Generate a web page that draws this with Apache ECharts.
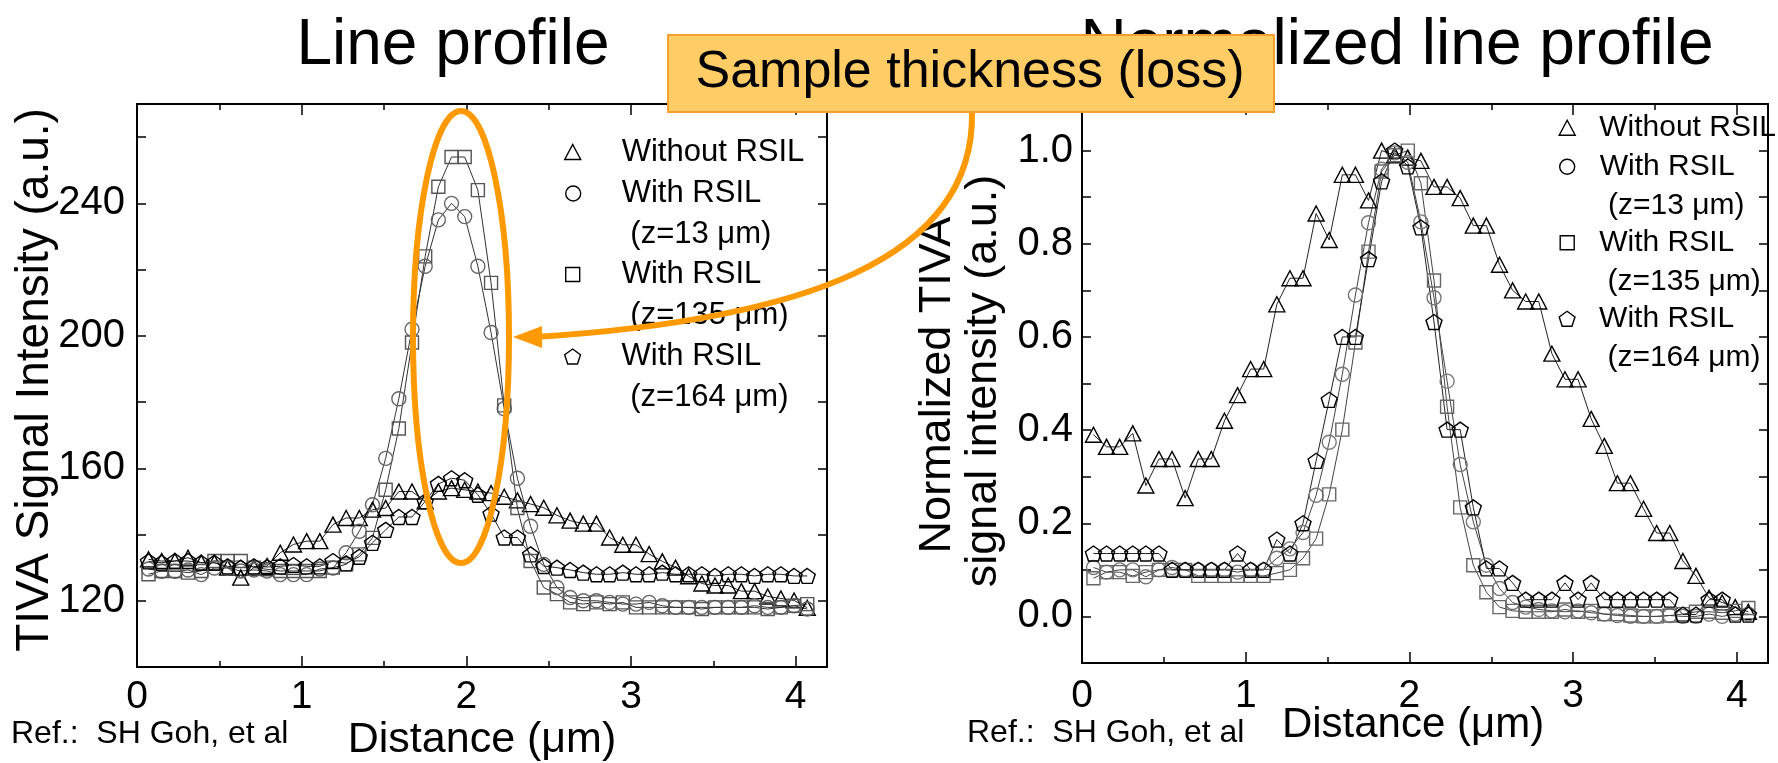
<!DOCTYPE html>
<html>
<head>
<meta charset="utf-8">
<title>Line profile</title>
<script src="https://cdn.jsdelivr.net/npm/echarts@6/dist/echarts.min.js"></script>
<style>
  html, body { margin: 0; padding: 0; background: #fff; }
  #main { width: 1778px; height: 763px; }
</style>
</head>
<body>
<div id="main"></div>
<script>
// distance along the line (um), shared by every profile
var distance = [0.07, 0.15, 0.23, 0.31, 0.39, 0.47, 0.55, 0.63, 0.71, 0.79,
  0.87, 0.95, 1.03, 1.11, 1.19, 1.27, 1.35, 1.43, 1.51, 1.59,
  1.67, 1.75, 1.83, 1.91, 1.99, 2.07, 2.15, 2.23, 2.31, 2.39,
  2.47, 2.55, 2.63, 2.71, 2.79, 2.87, 2.95, 3.03, 3.11, 3.19,
  3.27, 3.35, 3.43, 3.51, 3.59, 3.67, 3.75, 3.83, 3.91, 3.99, 4.07];

// line profile (a.u.)
var profNoRsil = [132.5, 132, 132, 133, 131.5, 131.5, 130, 127, 130, 130.5,
  134.5, 137, 138, 138, 143, 145, 145, 147.5, 148, 153, 153, 150,
  153, 154, 153.5, 153, 152.5,
  151.4, 150.3, 149.2, 148.1, 145.8, 144.2, 143.3, 143.3, 139.1, 136.9, 136.9, 134.1,
  131.9, 130, 127.4, 125.2, 124.6, 124.6, 122.9, 122.9, 121.3, 120.7, 120.1, 117.9];
var profZ13 = [129.6, 128.9, 128.9, 129.3, 127.9, 129.9, 129.9, 129, 129.3, 129,
  127.9, 127.9, 127.9, 129.6, 129.9,
  134.5, 141, 149, 163, 181, 202, 221, 235, 240, 236, 221, 201, 178, 157, 142.5, 131, 124,
  121, 120, 120, 119.5, 119, 119, 119.5, 118.5, 118, 118, 118, 118, 118, 118, 118.5, 118, 118, 118.5, 117.5];
var profZ135 = [128, 129, 129, 128.5, 129, 132, 132, 132, 130, 129.5,
  129, 129, 129, 129, 130,
  131, 134, 139, 153.5, 172, 198, 224, 245, 254, 254, 244, 216, 179, 148, 132, 124, 122,
  119.5, 119, 119.5, 119, 119.5, 118, 118, 118, 118, 118, 117.5, 118, 118, 118, 118, 117.5, 118, 118.5, 119];
var profZ164 = [131.9, 131.5, 132, 132, 131.5, 131.5, 130.4, 130, 130.4, 130.2,
  130.4, 130.8, 130.4, 130.4, 132, 131.3, 133.3,
  137.5, 141.4, 145.3, 145.3, 150, 155.3, 157, 156.4, 152, 146.3, 139.1, 139.1, 134, 130.5, 130, 129.3,
  128.5, 128, 128, 128.5, 128, 128, 128.5, 128, 128, 128, 127.5, 128, 128, 127.5, 128, 128, 127.5, 127.5];

// normalized line profile
var normNoRsil = [0.39, 0.364, 0.364, 0.393, 0.281, 0.338, 0.338, 0.254, 0.338, 0.338,
  0.42, 0.475, 0.531, 0.531, 0.67, 0.726, 0.726, 0.865, 0.808, 0.948,
  0.948, 0.893, 1.0, 0.99, 0.985, 0.978, 0.922, 0.922, 0.898, 0.839,
  0.839, 0.755, 0.7, 0.676, 0.676, 0.564, 0.509, 0.509, 0.424, 0.366,
  0.286, 0.286, 0.231, 0.179, 0.179, 0.119, 0.087, 0.04, 0.03, 0.02, 0.01];
var normZ13 = [0.105, 0.095, 0.1, 0.1, 0.085, 0.1, 0.105, 0.1, 0.1, 0.1,
  0.1, 0.095, 0.1, 0.1, 0.125, 0.145, 0.18, 0.26, 0.374, 0.52,
  0.69, 0.845, 0.96, 0.995, 0.975, 0.847, 0.684, 0.505, 0.326, 0.203,
  0.11, 0.06, 0.03, 0.02, 0.015, 0.012, 0.01, 0.012, 0.008, 0.005,
  0.002, 0, 0, 0, 0.002, 0, 0, 0.005, 0, 0.005, 0.005];
var normZ135 = [0.082, 0.095, 0.095, 0.087, 0.095, 0.1, 0.1, 0.1, 0.087, 0.087,
  0.087, 0.087, 0.087, 0.087, 0.093, 0.1, 0.125, 0.167, 0.262, 0.401,
  0.588, 0.783, 0.955, 0.99, 1.0, 0.93, 0.721, 0.45, 0.234, 0.11,
  0.052, 0.02, 0.012, 0.01, 0.01, 0.01, 0.015, 0.01, 0.012, 0.005,
  0.005, 0.002, 0, 0, 0.002, 0.005, 0.01, 0.01, 0.008, 0.012, 0.018];
var normZ164 = [0.135, 0.135, 0.135, 0.135, 0.135, 0.135, 0.1, 0.1, 0.1, 0.1,
  0.1, 0.135, 0.1, 0.1, 0.165, 0.135, 0.2, 0.334, 0.465, 0.6,
  0.6, 0.767, 0.934, 1.0, 0.966, 0.835, 0.632, 0.401, 0.401, 0.234,
  0.103, 0.103, 0.072, 0.036, 0.036, 0.036, 0.072, 0.036, 0.072, 0.036,
  0.036, 0.036, 0.036, 0.036, 0.036, 0.004, 0.004, 0.036, 0.036, 0.004, 0.004];

// tick labels
var xTickLabels = [0, 1, 2, 3, 4];
var profTickLabels = [120, 160, 200, 240];
var normTickLabels = [0.0, 0.2, 0.4, 0.6, 0.8, 1.0];

var names = ['Without RSIL', 'With RSIL (z=13 \u03bcm)', 'With RSIL (z=135 \u03bcm)', 'With RSIL (z=164 \u03bcm)'];
// two-line entries get an empty first line so the marker sits on "With RSIL"
var legendText = {};
legendText[names[0]] = 'Without RSIL';
legendText[names[1]] = '\u00a0\nWith RSIL\n\u00a0(z=13 \u03bcm)';
legendText[names[2]] = '\u00a0\nWith RSIL\n\u00a0(z=135 \u03bcm)';
legendText[names[3]] = '\u00a0\nWith RSIL\n\u00a0(z=164 \u03bcm)';

var pentagon = 'path://M10,0 L19.51,6.91 L15.88,18.09 L4.12,18.09 L0.49,6.91 Z';
var FONT = '"Liberation Sans", Arial, sans-serif';

function pairs(vals) {
  return distance.map(function (d, i) { return [d, vals[i]]; });
}

function isTick(list, v) {
  for (var i = 0; i < list.length; i++) {
    if (Math.abs(list[i] - v) < 1e-6) return true;
  }
  return false;
}

function line(name, vals, symbol, size, color, lineColor, xi, yi) {
  return {
    name: name, type: 'line',
    xAxisIndex: xi, yAxisIndex: yi,
    data: pairs(vals),
    symbol: symbol, symbolSize: size,
    lineStyle: { color: lineColor, width: 1 },
    itemStyle: { color: 'rgba(0,0,0,0)', borderColor: color, borderWidth: 1.4 },
    emphasis: { disabled: true },
    animation: false
  };
}

function xAx(grid, pos, interval, len, labels, margin) {
  return {
    type: 'value', gridIndex: grid, position: pos,
    min: 0, max: 4.19, interval: interval,
    axisLine: { show: true, onZero: false, lineStyle: { color: '#000', width: 2 } },
    axisTick: { show: true, inside: true, length: len, lineStyle: { color: '#000', width: 1.5 } },
    splitLine: { show: false },
    axisLabel: labels ? {
      show: true, margin: margin, color: '#000', fontSize: 39, fontFamily: FONT,
      formatter: function (v) { return isTick(xTickLabels, v) ? String(Math.round(v)) : ''; }
    } : { show: false }
  };
}

function yAx(grid, pos, min, max, interval, labels, margin, fmt) {
  return {
    type: 'value', gridIndex: grid, position: pos,
    min: min, max: max, interval: interval,
    axisLine: { show: true, onZero: false, lineStyle: { color: '#000', width: 2 } },
    axisTick: { show: true, inside: true, length: 9, lineStyle: { color: '#000', width: 1.5 } },
    splitLine: { show: false },
    axisLabel: labels ? {
      show: true, margin: margin, color: '#000', fontSize: 40, fontFamily: FONT, formatter: fmt
    } : { show: false }
  };
}

function leg(name, icon, w, h, left, top, fontSize, lineH, padLeft) {
  return {
    data: [{ name: name, icon: icon }],
    left: left, top: top, orient: 'vertical', padding: 0,
    itemWidth: w, itemHeight: h, selectedMode: false,
    formatter: function (n) { return legendText[n]; },
    itemStyle: { color: 'rgba(0,0,0,0)', borderColor: '#000', borderWidth: 1.4 },
    textStyle: {
      color: '#000', fontSize: fontSize, fontFamily: FONT, lineHeight: lineH,
      padding: [0, 0, 0, padLeft]
    }
  };
}

var chart = echarts.init(document.getElementById('main'), null, { renderer: 'canvas' });

var profFmt = function (v) { return isTick(profTickLabels, v) ? String(Math.round(v)) : ''; };
var normFmt = function (v) { return isTick(normTickLabels, v) ? (Math.round(v * 10) / 10).toFixed(1) : ''; };

var option = {
  backgroundColor: '#fff',
  animation: false,
  grid: [
    { left: 137, top: 104, width: 690, height: 563 },
    { left: 1082, top: 104, width: 686, height: 559 }
  ],
  xAxis: [
    xAx(0, 'bottom', 1, 11, true, 11),
    xAx(0, 'bottom', 0.5, 6, false),
    xAx(0, 'top', 1, 11, false),
    xAx(0, 'top', 0.5, 6, false),
    xAx(1, 'bottom', 1, 11, true, 14),
    xAx(1, 'bottom', 0.5, 6, false),
    xAx(1, 'top', 1, 11, false),
    xAx(1, 'top', 0.5, 6, false)
  ],
  yAxis: [
    yAx(0, 'left', 100, 270, 20, true, 12, profFmt),
    yAx(0, 'right', 100, 270, 20, false),
    yAx(1, 'left', -0.1, 1.1, 0.1, true, 9, normFmt),
    yAx(1, 'right', -0.1, 1.1, 0.1, false)
  ],
  legend: [
    leg(names[0], 'triangle', 16, 15, 564, 131.5, 31, 41, 36),
    leg(names[1], 'circle', 15, 15, 565, 132, 31, 41, 36),
    leg(names[2], 'rect', 14, 14, 565, 213, 31, 41, 37),
    leg(names[3], pentagon, 16, 15, 564, 295, 31, 41, 36),
    leg(names[0], 'triangle', 16, 15, 1558.5, 108.5, 30, 38.5, 19),
    leg(names[1], 'circle', 15, 15, 1559, 109, 30, 38.5, 20),
    leg(names[2], 'rect', 14, 14, 1559.5, 185, 30, 38.5, 20),
    leg(names[3], pentagon, 16, 15, 1558.5, 261, 30, 38.5, 19)
  ],
  series: [
    line(names[0], profNoRsil, 'triangle', [16, 15], '#000', '#222', 0, 0),
    line(names[1], profZ13, 'circle', 14, '#666', '#333', 0, 0),
    line(names[2], profZ135, 'rect', 13, '#555', '#333', 0, 0),
    line(names[3], profZ164, pentagon, [16, 15], '#000', '#222', 0, 0),
    line(names[0], normNoRsil, 'triangle', [16, 15], '#000', '#222', 4, 2),
    line(names[1], normZ13, 'circle', 14, '#777', '#444', 4, 2),
    line(names[2], normZ135, 'rect', 13, '#666', '#444', 4, 2),
    line(names[3], normZ164, pentagon, [16, 15], '#000', '#222', 4, 2)
  ],
  graphic: [
    { type: 'text', x: 453, y: 46, z: 100,
      style: { text: 'Line profile', font: '64px ' + FONT, fill: '#000', align: 'center', verticalAlign: 'middle' } },
    { type: 'text', x: 1397, y: 46, z: 100,
      style: { text: 'Normalized line profile', font: '64px ' + FONT, fill: '#000', align: 'center', verticalAlign: 'middle' } },
    { type: 'text', x: 35, y: 380, rotation: Math.PI / 2, z: 100,
      style: { text: 'TIVA Signal Intensity (a.u.)', font: '46px ' + FONT, fill: '#000', align: 'center', verticalAlign: 'middle' } },
    { type: 'text', x: 938, y: 385, rotation: Math.PI / 2, z: 100,
      style: { text: 'Normalized TIVA', font: '45px ' + FONT, fill: '#000', align: 'center', verticalAlign: 'middle' } },
    { type: 'text', x: 984, y: 381, rotation: Math.PI / 2, z: 100,
      style: { text: 'signal intensity (a.u.)', font: '45px ' + FONT, fill: '#000', align: 'center', verticalAlign: 'middle' } },
    { type: 'text', x: 482, y: 740, z: 100,
      style: { text: 'Distance (\u03bcm)', font: '43px ' + FONT, fill: '#000', align: 'center', verticalAlign: 'middle' } },
    { type: 'text', x: 1413, y: 725, z: 100,
      style: { text: 'Distance (\u03bcm)', font: '42px ' + FONT, fill: '#000', align: 'center', verticalAlign: 'middle' } },
    { type: 'text', x: 11, y: 734, z: 100,
      style: { text: 'Ref.:  SH Goh, et al', font: '32px ' + FONT, fill: '#000', align: 'left', verticalAlign: 'middle' } },
    { type: 'text', x: 967, y: 733, z: 100,
      style: { text: 'Ref.:  SH Goh, et al', font: '32px ' + FONT, fill: '#000', align: 'left', verticalAlign: 'middle' } },
    // highlight ellipse around the peak
    { type: 'ellipse', z: 105, shape: { cx: 461, cy: 337, rx: 48, ry: 226 },
      style: { fill: 'none', stroke: '#FF9900', lineWidth: 6 } },
    // curved arrow from the callout
    { type: 'bezierCurve', z: 105,
      shape: { x1: 972, y1: 112, cpx1: 975, cpy1: 260, cpx2: 800, cpy2: 320, x2: 536, y2: 337 },
      style: { fill: 'none', stroke: '#FF9900', lineWidth: 6 } },
    { type: 'polygon', z: 106, shape: { points: [[513, 337], [542, 326], [542, 348]] },
      style: { fill: '#FF9900' } },
    // callout box
    { type: 'rect', z: 110, shape: { x: 668, y: 35, width: 606, height: 77 },
      style: { fill: '#FFCC66', stroke: '#F5A031', lineWidth: 2 } },
    { type: 'text', x: 970, y: 73, z: 111,
      style: { text: 'Sample thickness (loss)', font: '52px ' + FONT, fill: '#000', align: 'center', verticalAlign: 'middle' } }
  ]
};

chart.setOption(option);
</script>
</body>
</html>
